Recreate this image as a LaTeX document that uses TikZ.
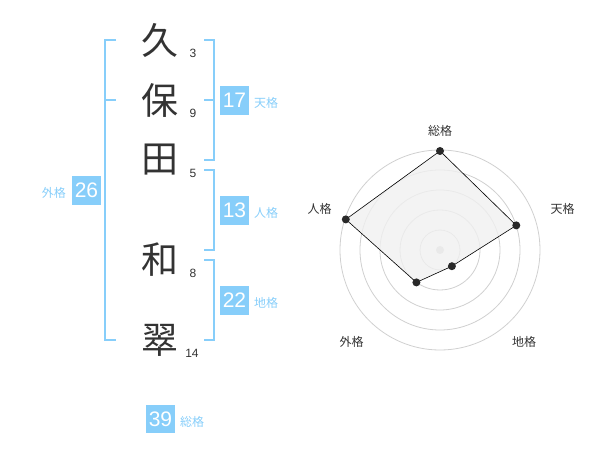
\documentclass[tikz,border=0pt]{standalone}
\usepackage{fontspec}
\setmainfont{Liberation Sans}
\newfontfamily\jp{Noto Sans CJK JP}
\definecolor{skyb}{HTML}{87CEFA}
\definecolor{ink}{HTML}{333333}
\definecolor{ring}{HTML}{D0D0D0}
\definecolor{polyfill}{HTML}{F0F0F0}
\begin{document}
\begin{tikzpicture}[x=1pt,y=-1pt,
  kanji/.style={font=\jp\fontsize{37}{37}\selectfont,text=ink,inner sep=0pt},
  stroke/.style={font=\fontsize{12}{12}\selectfont,text=ink,inner sep=0pt},
  numbox/.style={fill=skyb,text=white,font=\fontsize{21}{21}\selectfont,minimum width=28.5pt,minimum height=28.5pt,inner sep=0pt},
  kaku/.style={font=\jp\fontsize{12}{12}\selectfont,text=skyb,inner sep=0pt},
  brk/.style={draw=skyb,line width=2pt},
  radlabel/.style={font=\jp\fontsize{12}{12}\selectfont,text=ink,inner sep=0pt},
  ringline/.style={draw=ring,line width=0.8pt},
  dotpt/.style={circle,fill=ink!80!black,inner sep=0pt,minimum size=8pt}]
\useasboundingbox (0,0) rectangle (600,470);
% kanji
\node[kanji] (k1) at (160,40) {久};
\node[kanji] (k2) at (160,100) {保};
\node[kanji] (k3) at (160,160) {田};
\node[kanji] (k4) at (160,260) {和};
\node[kanji] (k5) at (160,340) {翠};
% stroke counts
\node[stroke] (s1) at (193,53) {3};
\node[stroke] (s2) at (193,113) {9};
\node[stroke] (s3) at (193,173) {5};
\node[stroke] (s4) at (193,273) {8};
\node[stroke] (s5) at (192,353) {14};
% brackets
\draw[brk] (116,40) -- (105,40) -- (105,340) -- (116,340);
\draw[brk] (105,100) -- (116,100);
\draw[brk] (204,40) -- (214,40) -- (214,160) -- (204,160);
\draw[brk] (204,100) -- (214,100);
\draw[brk] (204,170) -- (214,170) -- (214,250) -- (204,250);
\draw[brk] (204,260) -- (214,260) -- (214,340) -- (204,340);
% boxes
\node[numbox] (ten) at (234.5,100.5) {17};
\node[kaku,anchor=west] (tenl) at (254,103) {天格};
\node[numbox] (jin) at (234.5,210.5) {13};
\node[kaku,anchor=west] (jinl) at (254,213) {人格};
\node[numbox] (chi) at (234.5,300.5) {22};
\node[kaku,anchor=west] (chil) at (254,303) {地格};
\node[numbox] (gai) at (86.5,190.5) {26};
\node[kaku,anchor=east] (gail) at (66,193) {外格};
\node[numbox] (sou) at (160.5,419) {39};
\node[kaku,anchor=west] (soul) at (180,422) {総格};
% radar
\coordinate (c) at (440,250);
\foreach \r in {20,40,60,80,100} \draw[ringline] (c) circle[radius=\r];
\fill[ring] (c) circle[radius=4];
\coordinate (p1) at (440,151);
\coordinate (p2) at (516.3,225.4);
\coordinate (p3) at (451.9,266.2);
\coordinate (p4) at (416.4,282.4);
\coordinate (p5) at (345.8,219.4);
\filldraw[fill=polyfill,fill opacity=0.8,draw=black,line width=0.6pt] (p1) -- (p2) -- (p3) -- (p4) -- (p5) -- cycle;
\foreach \p in {p1,p2,p3,p4,p5} \node[dotpt] at (\p) {};
\node[radlabel] (l1) at (440,130.5) {総格};
\node[radlabel] (l2) at (562.5,209) {天格};
\node[radlabel] (l3) at (524,342) {地格};
\node[radlabel] (l4) at (351.5,342) {外格};
\node[radlabel] (l5) at (319.5,209) {人格};
\end{tikzpicture}
\end{document}
